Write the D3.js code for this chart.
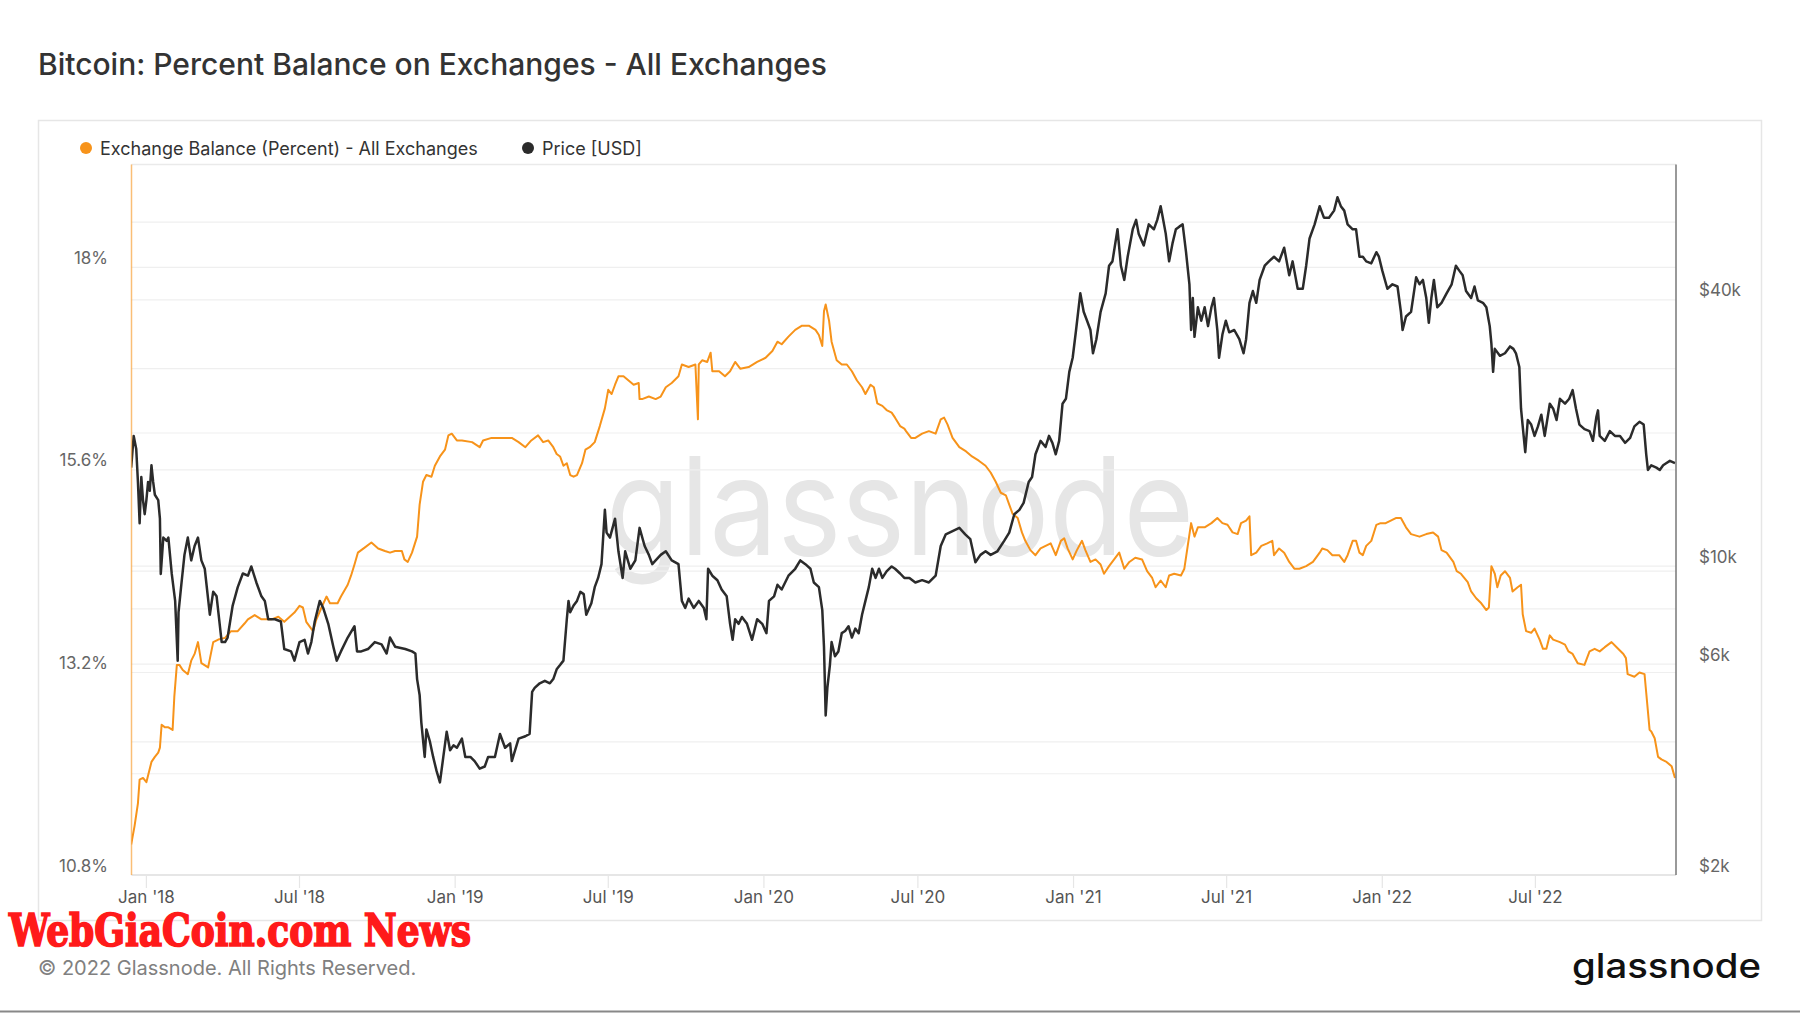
<!DOCTYPE html>
<html><head><meta charset="utf-8">
<script src="https://cdn.jsdelivr.net/npm/d3@7"></script>
<style>html,body{margin:0;padding:0;background:#fff;} svg{display:block;font-family:Inter,"Noto Sans",sans-serif;}</style>
</head><body><svg id="chart" width="1800" height="1013"></svg>
<script>
// ---------------- data ----------------
const TITLE = "Bitcoin: Percent Balance on Exchanges - All Exchanges";
const SERIES_NAMES = ["Exchange Balance (Percent) - All Exchanges", "Price [USD]"];
const DAY_ZERO = "2018-01-01";            // day offsets below are counted from this date
const X_RANGE_DAYS = [-17.6, 1808.2];      // visible window: mid-Dec 2017 .. mid-Dec 2022
const X_TICK_MONTHS = 6;                   // Jan / Jul ticks
const LEFT_DOMAIN = [10.8, 19.22];
const LEFT_TICKS = [10.8, 13.2, 15.6, 18];
const LEFT_GRID = [12, 14.4, 16.8];
const RIGHT_DOMAIN = [2, 81];              // USD thousands, log scale
const RIGHT_TICKS = [2, 6, 10, 40];
const RIGHT_GRID = [4, 8, 20, 60];

const balanceDay = [-18,-14,-10,-8,-4,0,2,6,10,14,16,18,22,26,31,33,36,39,43,49,53,57,61,65,73,79,85,93,100,108,116,120,128,136,148,156,163,175,181,185,189,197,201,207,213,217,226,230,238,242,246,250,258,266,274,282,288,
294,302,305,309,314,320,323,327,331,337,341,347,353,357,361,367,373,385,394,398,408,420,432,440,448,455,463,469,475,481,485,489,493,497,501,505,509,515,519,524,530,536,542,546,550,554,558,564,570,576,582,583,
586,594,602,608,614,621,629,633,641,649,652,653,657,663,667,669,677,684,690,696,702,712,722,732,740,746,751,759,767,775,783,791,795,799,801,803,807,810,816,822,828,834,840,846,850,856,860,864,870,875,881,885,891,896,
898,904,909,917,925,933,939,943,947,953,961,969,976,984,992,998,1004,1010,1016,1020,1024,1030,1035,1039,1045,1051,1057,1063,1069,1075,1081,1085,1089,1095,1100,1106,1110,1116,1122,1128,1132,1138,1144,1150,1156,1162,1169,1177,1183,1189,1193,1199,
1205,1209,1215,1223,1227,1231,1235,1239,1243,1251,1259,1266,1272,1278,1284,1290,1294,1300,1304,1306,1312,1318,1325,1331,1333,1339,1345,1351,1357,1363,1371,1379,1387,1390,1396,1402,1410,1416,1420,1426,1430,1434,1438,1442,1448,1454,1459,1465,1471,1477,1483,1489,1495,
1505,1513,1521,1527,1531,1537,1545,1549,1554,1562,1566,1572,1578,1584,1587,1590,1594,1597,1601,1606,1612,1615,1621,1625,1627,1631,1637,1641,1647,1651,1655,1659,1663,1671,1677,1681,1686,1692,1700,1706,1712,1718,1724,1732,1738,1746,1749,1751,1759,1765,1771,1773,1777,1779,1783,1787,1791,1797,1803,1807];

const balancePct = [11.16,11.38,11.65,11.93,11.95,11.90,11.98,12.14,12.20,12.25,12.31,12.58,12.55,12.55,12.52,12.91,13.29,13.29,13.23,13.18,13.34,13.42,13.56,13.31,13.26,13.56,13.59,13.61,13.69,13.69,13.78,13.83,13.88,13.83,13.83,13.86,13.80,13.91,13.99,13.97,13.80,13.69,13.83,13.97,14.10,14.02,14.02,14.10,14.24,14.35,14.48,14.62,14.68,14.74,14.67,14.64,14.62,
14.64,14.64,14.54,14.51,14.62,14.81,15.19,15.46,15.54,15.52,15.65,15.76,15.84,16.01,16.03,15.95,15.95,15.93,15.87,15.95,15.98,15.98,15.98,15.93,15.87,15.95,16.01,15.93,15.95,15.87,15.79,15.76,15.65,15.68,15.54,15.52,15.54,15.68,15.84,15.87,15.93,16.12,16.33,16.55,16.50,16.61,16.71,16.71,16.66,16.61,16.63,16.44,
16.44,16.47,16.44,16.47,16.58,16.63,16.71,16.85,16.82,16.85,16.20,16.85,16.90,16.88,16.99,16.77,16.77,16.71,16.77,16.88,16.80,16.82,16.88,16.93,17.01,17.12,17.09,17.18,17.26,17.31,17.31,17.26,17.20,17.07,17.48,17.56,17.37,17.12,16.90,16.85,16.85,16.77,16.66,16.58,16.50,16.61,16.58,16.39,16.36,16.31,16.28,16.22,16.12,16.09,
16.06,15.98,15.98,16.03,16.06,16.03,16.20,16.22,16.14,15.98,15.87,15.82,15.76,15.71,15.65,15.57,15.46,15.33,15.30,15.19,15.08,15.03,14.86,14.76,14.65,14.59,14.67,14.70,14.73,14.59,14.76,14.79,14.67,14.54,14.65,14.76,14.65,14.51,14.54,14.48,14.37,14.46,14.54,14.62,14.43,14.51,14.56,14.54,14.40,14.32,14.21,14.29,
14.21,14.35,14.37,14.35,14.43,14.70,14.97,14.81,14.92,14.92,14.97,15.03,14.97,14.95,14.86,14.84,14.97,15.00,15.05,14.59,14.62,14.70,14.73,14.76,14.59,14.67,14.62,14.51,14.43,14.43,14.46,14.51,14.62,14.67,14.65,14.59,14.59,14.51,14.59,14.76,14.76,14.62,14.59,14.70,14.76,14.95,14.97,14.97,15.00,15.03,15.03,14.92,14.84,
14.81,14.84,14.86,14.81,14.65,14.62,14.51,14.40,14.37,14.27,14.16,14.08,14.02,13.94,13.97,14.46,14.37,14.21,14.35,14.40,14.32,14.16,14.21,14.24,13.89,13.69,13.67,13.72,13.59,13.48,13.48,13.64,13.59,13.56,13.53,13.45,13.42,13.31,13.29,13.45,13.48,13.45,13.50,13.56,13.50,13.42,13.37,13.18,13.15,13.20,13.18,12.96,12.52,12.50,12.42,12.20,12.17,12.14,12.09,11.95];

const priceDay = [-18,-15,-12,-10,-8,-6,-4,-2,0,2,4,6,8,10,14,16,17,20,24,26,30,34,37,38,41,45,49,53,57,61,65,69,75,79,83,89,93,96,102,108,114,120,124,130,136,140,144,152,159,163,171,175,181,187,191,195,199,205,209,215,221,225,230,238,246,249,254,262,270,278,284,288,
294,306,314,318,320,323,325,329,331,335,339,343,347,351,355,359,363,367,373,377,383,388,394,400,404,412,418,424,430,432,440,448,453,456,459,465,471,477,481,485,489,493,497,499,501,505,509,513,517,520,526,530,534,538,542,544,548,554,558,563,566,572,578,583,589,
594,598,602,608,614,621,629,633,637,641,647,653,659,662,664,669,675,680,686,690,693,696,700,704,710,716,722,728,733,736,742,746,751,759,767,773,779,785,789,795,799,801,803,805,808,810,814,818,822,826,830,834,838,842,846,850,854,858,862,866,870,875,881,885,891,896,
902,909,917,925,933,939,945,953,961,968,974,980,986,992,998,1006,1014,1020,1026,1032,1037,1043,1047,1051,1057,1063,1067,1071,1075,1079,1083,1087,1091,1095,1099,1104,1108,1112,1116,1119,1123,1128,1134,1138,1142,1148,1152,1156,1160,1166,1170,1173,1179,1185,1191,1195,1199,
1201,1205,1209,1213,1217,1221,1225,1229,1233,1235,1237,1239,1243,1247,1251,1255,1259,1262,1266,1268,1272,1276,1280,1286,1292,1297,1300,1304,1308,1312,1316,1322,1327,1333,1339,1345,1351,1355,1361,1367,1371,1375,1381,1387,1392,1398,1404,1408,1412,1416,1420,1426,1430,1434,1438,1442,1448,1454,1457,1461,1467,1473,1479,1483,1485,1489,1495,
1501,1505,1509,1513,1516,1519,1522,1526,1531,1537,1543,1548,1552,1556,1560,1566,1570,1574,1580,1584,1588,1590,1592,1594,1600,1606,1612,1616,1619,1623,1625,1627,1630,1633,1637,1641,1645,1649,1653,1659,1663,1667,1671,1677,1682,1686,1690,1694,1700,1706,1710,1714,1716,1718,1724,1730,1736,1742,1748,1754,1759,1765,1770,1773,1775,1779,1785,1789,1793,1797,1801,1807];

// USD thousands
const priceK = [16.7,19.7,18.4,15.5,12.5,15.9,14.1,13.1,14.1,15.5,14.8,16.9,15.5,14.5,14.1,12.8,9.6,11.6,11.4,11.6,9.6,8.34,6.11,7.86,8.96,10.6,11.6,10.3,11.1,11.6,10.3,9.86,7.76,8.75,8.54,6.73,6.73,6.89,8.14,8.96,9.62,9.51,9.98,9.18,8.54,8.34,7.58,7.58,7.49,6.49,6.41,6.11,6.73,6.81,6.34,6.73,7.49,8.34,8.04,7.40,6.57,6.11,6.41,6.89,7.31,6.41,6.41,6.49,6.73,6.65,6.34,6.89,
6.57,6.49,6.41,6.34,5.55,5.11,4.43,3.70,4.27,4.02,3.70,3.44,3.24,3.70,4.22,3.83,3.93,3.88,4.07,3.70,3.70,3.62,3.48,3.52,3.70,3.70,4.17,3.88,3.97,3.62,4.07,4.12,4.17,5.19,5.30,5.43,5.50,5.43,5.55,5.84,5.97,6.11,7.58,8.34,7.86,8.14,8.34,8.74,8.64,7.76,8.24,8.96,9.40,10.1,13.4,11.9,11.6,12.8,10.8,9.40,10.8,9.86,10.3,12.2,11.1,
10.6,10.1,10.3,10.6,10.8,10.3,10.1,8.34,8.04,8.44,8.04,8.34,8.04,7.58,9.86,9.51,9.29,8.85,8.54,7.40,6.81,7.58,7.40,7.67,7.40,6.81,7.58,7.40,7.05,8.34,8.54,9.07,8.85,9.51,9.86,10.3,10.1,9.86,9.18,8.96,7.95,6.57,4.59,5.30,5.97,6.73,6.25,6.41,7.05,7.13,7.31,6.89,7.22,7.05,7.76,8.34,8.96,9.86,9.40,9.86,9.40,9.73,9.98,9.86,9.62,9.40,
9.40,9.18,9.29,9.18,9.51,11.1,11.8,12.0,12.2,11.8,11.5,10.2,10.6,10.8,10.6,10.8,11.4,11.9,13.1,13.4,13.9,15.5,15.9,17.9,19.2,18.6,19.7,19.0,17.9,19.2,23.3,23.9,27.5,29.6,34.2,41.4,37.6,35.9,34.2,30.3,32.6,37.6,41.4,47.8,48.9,57.8,47.8,44.4,50.1,57.8,60.7,56.5,53.1,59.3,57.8,60.7,65.2,
62.2,56.5,48.9,53.7,57.8,58.6,59.3,51.3,43.4,34.2,40.4,33.0,38.5,35.9,38.5,34.9,38.5,40.4,34.2,29.6,33.4,35.9,33.8,34.2,32.6,30.3,32.6,39.4,41.9,39.4,44.4,47.8,48.9,50.1,48.9,52.5,45.5,48.9,42.4,42.4,47.8,55.1,59.3,65.2,61.4,61.4,63.7,68.3,65.2,63.7,59.3,57.8,57.8,50.1,50.1,48.9,48.4,51.3,50.1,46.6,42.4,43.4,42.9,37.6,34.2,36.7,37.6,
45.0,43.4,44.4,40.4,35.5,40.4,44.4,38.5,39.4,41.4,43.4,47.8,46.6,45.5,41.9,40.4,42.9,39.9,39.4,38.5,34.9,31.8,27.5,31.0,29.9,30.3,31.4,31.0,30.3,28.2,22.7,20.7,18.1,21.4,20.9,19.7,20.7,22.0,19.7,23.3,22.7,21.4,23.9,23.3,23.9,25.0,22.7,20.9,20.4,20.2,19.2,21.7,22.5,19.7,19.2,20.2,19.7,19.7,19.0,19.5,20.7,21.2,20.9,17.9,16.5,16.9,16.7,16.5,16.9,17.1,17.3,17.1];

// ---------------- drawing ----------------
const svg = d3.select("#chart");
const W = 1800, H = 1013;
const plot = {left: 131.5, right: 1676, top: 164.5, bottom: 875};
const ORANGE = "#f7931a", DARK = "#2b2b2b";

const day0 = d3.utcParse("%Y-%m-%d")(DAY_ZERO);
const toDate = d => new Date(day0.getTime() + d * 864e5);

const x = d3.scaleUtc().domain(X_RANGE_DAYS.map(toDate)).range([plot.left, plot.right]);
const yL = d3.scaleLinear().domain(LEFT_DOMAIN).range([plot.bottom, plot.top]);
const yR = d3.scaleLog().domain(RIGHT_DOMAIN).range([plot.bottom, plot.top]);

svg.append("rect").attr("width", W).attr("height", H).attr("fill", "#fff");

// title
svg.append("text").attr("x", 38).attr("y", 75).attr("font-size", 30).attr("fill", "#333")
  .attr("font-weight", 500).text(TITLE);

// container box
svg.append("rect").attr("x", 38.5).attr("y", 120.5).attr("width", 1723).attr("height", 800)
  .attr("fill", "none").attr("stroke", "#e6e6e6").attr("stroke-width", 1.5);

// legend
const legend = [{name: SERIES_NAMES[0], color: ORANGE, x: 86}, {name: SERIES_NAMES[1], color: DARK, x: 528}];
legend.forEach(l => {
  svg.append("circle").attr("cx", l.x).attr("cy", 148).attr("r", 6).attr("fill", l.color);
  svg.append("text").attr("x", l.x + 14).attr("y", 154.5).attr("font-size", 18).attr("fill", "#333").text(l.name);
});

// watermark
svg.append("text").attr("x", 606).attr("y", 555).attr("font-size", 136).attr("fill", "#e6e6e6")
  .attr("textLength", 588).attr("lengthAdjust", "spacingAndGlyphs").text("glassnode");

// gridlines
const g = svg.append("g");
const gridYs = [...LEFT_TICKS, ...LEFT_GRID].map(v => yL(v)).concat([...RIGHT_TICKS, ...RIGHT_GRID].map(v => yR(v)));
g.selectAll("line.grid").data(gridYs).join("line").attr("class", "grid")
  .attr("x1", plot.left).attr("x2", plot.right).attr("y1", d => d).attr("y2", d => d)
  .attr("stroke", "#efefef").attr("stroke-width", 1.2);

// plot borders
g.append("line").attr("x1", plot.left).attr("x2", plot.right).attr("y1", plot.top).attr("y2", plot.top).attr("stroke", "#eaeaea").attr("stroke-width", 1.5);
g.append("line").attr("x1", plot.left).attr("x2", plot.right).attr("y1", plot.bottom).attr("y2", plot.bottom).attr("stroke", "#e2e2e2").attr("stroke-width", 1.5);

// x axis
const xTicks = x.ticks(d3.utcMonth.every(X_TICK_MONTHS));
const fmtX = d3.utcFormat("%b '%y");
const xa = svg.append("g");
xa.selectAll("line").data(xTicks).join("line")
  .attr("x1", d => x(d)).attr("x2", d => x(d)).attr("y1", plot.bottom).attr("y2", plot.bottom + 13)
  .attr("stroke", "#e6e6e6").attr("stroke-width", 1.2);
xa.selectAll("text").data(xTicks).join("text")
  .attr("x", d => x(d)).attr("y", 903).attr("text-anchor", "middle").attr("font-size", 17).attr("fill", "#555")
  .text(fmtX);

// left axis labels
svg.append("g").selectAll("text").data(LEFT_TICKS).join("text")
  .attr("x", 108).attr("y", d => yL(d) - 3.5).attr("text-anchor", "end").attr("font-size", 17).attr("fill", "#666")
  .text(d => d3.format("~g")(d) + "%");

// right axis labels
svg.append("g").selectAll("text").data(RIGHT_TICKS).join("text")
  .attr("x", 1699).attr("y", d => yR(d) - 3.5).attr("text-anchor", "start").attr("font-size", 17).attr("fill", "#666")
  .text(d => "$" + d + "k");

// clip
svg.append("clipPath").attr("id", "clip").append("rect")
  .attr("x", plot.left).attr("y", plot.top).attr("width", plot.right - plot.left).attr("height", plot.bottom - plot.top);

const balance = balanceDay.map((d, i) => ({date: toDate(d), v: balancePct[i]}));
const price = priceDay.map((d, i) => ({date: toDate(d), v: priceK[i]}));

const lines = svg.append("g").attr("clip-path", "url(#clip)");
lines.append("path").datum(balance).attr("fill", "none").attr("stroke", ORANGE).attr("stroke-width", 2)
  .attr("stroke-linejoin", "round")
  .attr("d", d3.line().x(d => x(d.date)).y(d => yL(d.v)));
lines.append("path").datum(price).attr("fill", "none").attr("stroke", DARK).attr("stroke-width", 2.5)
  .attr("stroke-linejoin", "round")
  .attr("d", d3.line().x(d => x(d.date)).y(d => yR(d.v)));

// axis lines (colored by series)
svg.append("line").attr("x1", plot.left).attr("x2", plot.left).attr("y1", plot.top).attr("y2", plot.bottom)
  .attr("stroke", ORANGE).attr("stroke-opacity", 0.6).attr("stroke-width", 1.5);
svg.append("line").attr("x1", plot.right).attr("x2", plot.right).attr("y1", plot.top).attr("y2", plot.bottom)
  .attr("stroke", "#777").attr("stroke-width", 1.5);

// footer
svg.append("text").attr("x", 9).attr("y", 946).attr("font-family", "'DejaVu Serif Condensed','DejaVu Serif',serif")
  .attr("font-weight", 700).attr("font-size", 44).attr("fill", "#ff1a1a")
  .attr("stroke", "#ff1a1a").attr("stroke-width", 1.6)
  .attr("textLength", 462).attr("lengthAdjust", "spacingAndGlyphs").text("WebGiaCoin.com News");
svg.append("text").attr("x", 38).attr("y", 975).attr("font-size", 20).attr("fill", "#808080")
  .text("© 2022 Glassnode. All Rights Reserved.");
svg.append("text").attr("x", 1572).attr("y", 978).attr("font-size", 34).attr("font-weight", 500).attr("fill", "#111")
  .attr("textLength", 189).attr("lengthAdjust", "spacingAndGlyphs").text("glassnode");
svg.append("line").attr("x1", 0).attr("x2", W).attr("y1", 1011.5).attr("y2", 1011.5).attr("stroke", "#888").attr("stroke-width", 2);
</script></body></html>
